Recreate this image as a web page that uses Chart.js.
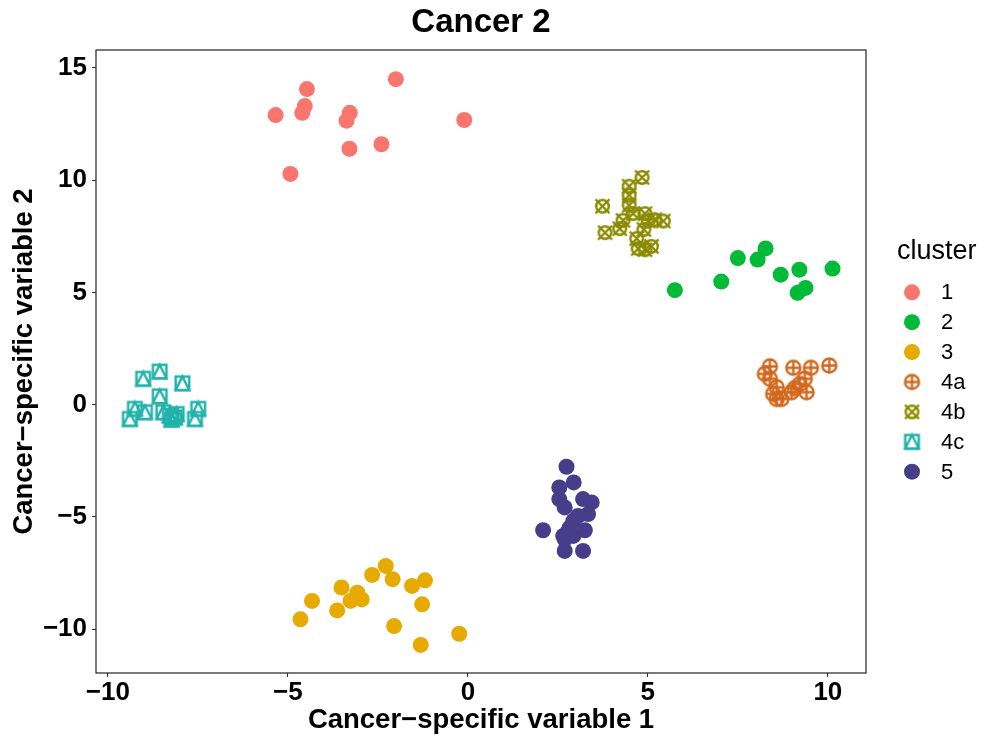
<!DOCTYPE html>
<html>
<head>
<meta charset="utf-8">
<script src="https://cdn.jsdelivr.net/npm/chart.js@4"></script>
<style>
html,body{margin:0;padding:0;background:#fff;}
#wrap{width:997px;height:747px;}
</style>
</head>
<body>
<div id="wrap"><canvas id="c" width="997" height="747"></canvas></div>
<script>
const clusterNames = ['1','2','3','4a','4b','4c','5'];
const clusterColors = ['#F8766D','#00BA38','#E6AA00','#D2691E','#8B8B00','#20B2AA','#483D8B'];

const c1X = [-5.34,-4.47,-4.53,-4.6,-3.28,-3.37,-3.29,-2.4,-2.0,-0.1,-4.93];
const c1Y = [12.9,14.06,13.3,13.0,13.0,12.65,11.4,11.6,14.5,12.68,10.28];
const c2X = [5.75,7.04,7.5,8.05,8.27,8.69,9.21,9.16,9.38,10.13];
const c2Y = [5.1,5.48,6.53,6.46,6.96,5.79,6.01,4.98,5.2,6.06];
const c3X = [-4.65,-4.33,-3.63,-3.51,-3.07,-3.26,-2.95,-2.66,-2.28,-2.09,-1.55,-1.19,-1.27,-2.05,-1.31,-0.24];
const c3Y = [-9.57,-8.75,-9.17,-8.15,-8.38,-8.75,-8.68,-7.59,-7.19,-7.78,-8.08,-7.83,-8.9,-9.87,-10.71,-10.21];
const c4aX = [8.39,9.04,9.53,10.04,8.25,8.39,9.36,9.22,8.58,9.08,9.41,8.48,8.58,8.71,8.99];
const c4aY = [1.7,1.64,1.64,1.74,1.37,1.15,1.15,0.92,0.77,0.73,0.55,0.48,0.25,0.25,0.55];
const c4bX = [4.84,4.48,4.48,3.74,4.48,3.81,4.31,4.22,4.59,4.92,5.01,5.43,4.89,4.69,4.73,4.92,5.1,5.19];
const c4bY = [10.12,9.73,9.33,8.84,8.88,7.66,8.21,7.84,8.51,8.51,8.18,8.18,7.8,7.4,6.95,6.9,7.05,8.24];
const c4cX = [-9.02,-8.56,-7.93,-8.56,-9.25,-8.97,-9.39,-8.46,-8.28,-8.14,-8.09,-7.49,-7.58,-8.23];
const c4cY = [1.15,1.47,0.95,0.37,-0.19,-0.34,-0.64,-0.34,-0.49,-0.57,-0.42,-0.19,-0.64,-0.67];
const c5X = [2.74,2.94,2.54,2.54,3.2,3.44,2.69,3.34,3.06,2.93,2.09,3.25,2.79,2.65,2.93,2.69,2.69,3.2,2.83];
const c5Y = [-2.77,-3.47,-3.69,-4.21,-4.21,-4.36,-4.58,-4.88,-4.96,-5.18,-5.6,-5.6,-5.63,-5.85,-5.85,-6.0,-6.52,-6.52,-5.48];

const xTicks = [-10,-5,0,5,10];
const yTicks = [-10,-5,0,5,10,15];

const clusterXs = [c1X,c2X,c3X,c4aX,c4bX,c4cX,c5X];
const clusterYs = [c1Y,c2Y,c3Y,c4aY,c4bY,c4cY,c5Y];

const FONT = '"Liberation Sans", Arial, Helvetica, sans-serif';

function makeMarker(kind, color){
  const s = 19, c = s/2;
  const cv = document.createElement('canvas');
  cv.width = s; cv.height = s;
  const g = cv.getContext('2d');
  g.strokeStyle = color; g.lineWidth = 2.4; g.lineCap = 'butt';
  if (kind === 'circlePlus'){
    const r = 7;
    g.beginPath(); g.arc(c,c,r,0,Math.PI*2); g.stroke();
    g.beginPath(); g.moveTo(c-r,c); g.lineTo(c+r,c); g.moveTo(c,c-r); g.lineTo(c,c+r); g.stroke();
  } else if (kind === 'circleCross'){
    const r = 6.3, h = 7;
    g.beginPath(); g.arc(c,c,r,0,Math.PI*2); g.stroke();
    g.beginPath(); g.moveTo(c-h,c-h); g.lineTo(c+h,c+h); g.moveTo(c+h,c-h); g.lineTo(c-h,c+h); g.stroke();
  } else if (kind === 'squareTriangle'){
    const h = 6.8;
    g.lineJoin = 'miter';
    g.strokeRect(c-h,c-h,2*h,2*h);
    g.beginPath(); g.moveTo(c,c-h); g.lineTo(c+h,c+h); g.lineTo(c-h,c+h); g.closePath(); g.stroke();
  }
  return cv;
}

const clusterStyles = ['circle','circle','circle',
  makeMarker('circlePlus', clusterColors[3]),
  makeMarker('circleCross', clusterColors[4]),
  makeMarker('squareTriangle', clusterColors[5]),
  'circle'];

const datasets = clusterNames.map((name,i)=>({
  label: name,
  data: clusterXs[i].map((x,j)=>({x:x, y:clusterYs[i][j]})),
  pointStyle: clusterStyles[i],
  pointRadius: 8,
  pointHoverRadius: 8,
  backgroundColor: clusterColors[i],
  borderColor: clusterColors[i],
  borderWidth: 0,
  showLine: false
}));

const minus = v => String(v).replace('-', '\u2212');

const boxPlugin = {
  id: 'panelBox',
  afterDatasetsDraw(chart){
    const {ctx, chartArea:a} = chart;
    ctx.save();
    ctx.strokeStyle = '#222222';
    ctx.lineWidth = 1.2;
    ctx.strokeRect(a.left, a.top, a.right - a.left, a.bottom - a.top);
    ctx.restore();
  }
};

const legendPlugin = {
  id: 'ggLegend',
  afterDraw(chart){
    const ctx = chart.ctx;
    ctx.save();
    ctx.fillStyle = '#000';
    ctx.textAlign = 'left';
    ctx.textBaseline = 'middle';
    ctx.font = '27px ' + FONT;
    ctx.fillText('cluster', 897, 252);
    ctx.font = '22px ' + FONT;
    chart.data.datasets.forEach((ds,i)=>{
      const y = 292.3 + i*29.9;
      const x = 912;
      if (ds.pointStyle === 'circle'){
        ctx.fillStyle = ds.backgroundColor;
        ctx.beginPath(); ctx.arc(x,y,8,0,Math.PI*2); ctx.fill();
      } else {
        const im = ds.pointStyle;
        ctx.drawImage(im, x - im.width/2, y - im.height/2);
      }
      ctx.fillStyle = '#000';
      ctx.fillText(ds.label, 941, y + 1);
    });
    ctx.restore();
  }
};

new Chart(document.getElementById('c'), {
  type: 'scatter',
  data: { datasets },
  plugins: [boxPlugin, legendPlugin],
  options: {
    responsive: false,
    animation: false,
    events: [],
    layout: { padding: { left: 0, right: 131, top: 0, bottom: 0 } },
    plugins: {
      legend: { display: false },
      tooltip: { enabled: false },
      title: {
        display: true,
        text: 'Cancer 2',
        fullSize: false,
        color: '#000',
        font: { family: FONT, size: 33, weight: 'bold', lineHeight: 1.2 },
        padding: { top: 3, bottom: 7.4 }
      }
    },
    scales: {
      x: {
        type: 'linear',
        min: -10.33, max: 11.06,
        afterFit: s => { s.height = 74; },
        afterBuildTicks: s => { s.ticks = xTicks.map(v => ({value: v})); },
        grid: { drawOnChartArea: false, drawTicks: true, tickLength: 4, tickColor: '#333333', tickWidth: 1.1 },
        border: { display: false },
        ticks: {
          color: '#000', padding: 0, maxRotation: 0, autoSkip: false,
          font: { family: FONT, size: 26, weight: 'bold', lineHeight: 1.2 },
          callback: v => minus(v)
        },
        title: {
          display: true, text: 'Cancer\u2212specific variable 1', color: '#000',
          font: { family: FONT, size: 27.5, weight: 'bold', lineHeight: 1.2 },
          padding: { top: 0, bottom: 10.4 }
        }
      },
      y: {
        type: 'linear',
        min: -11.96, max: 15.8,
        afterFit: s => { s.width = 96; },
        afterBuildTicks: s => { s.ticks = yTicks.map(v => ({value: v})); },
        grid: { drawOnChartArea: false, drawTicks: true, tickLength: 4, tickColor: '#333333', tickWidth: 1.1 },
        border: { display: false },
        ticks: {
          color: '#000', padding: 5, autoSkip: false,
          font: { family: FONT, size: 26, weight: 'bold', lineHeight: 1.2 },
          callback: v => minus(v)
        },
        title: {
          display: true, text: 'Cancer\u2212specific variable 2', color: '#000',
          font: { family: FONT, size: 27.5, weight: 'bold', lineHeight: 1.2 },
          padding: { top: 7.5, bottom: 0 }
        }
      }
    }
  }
});
</script>
</body>
</html>
